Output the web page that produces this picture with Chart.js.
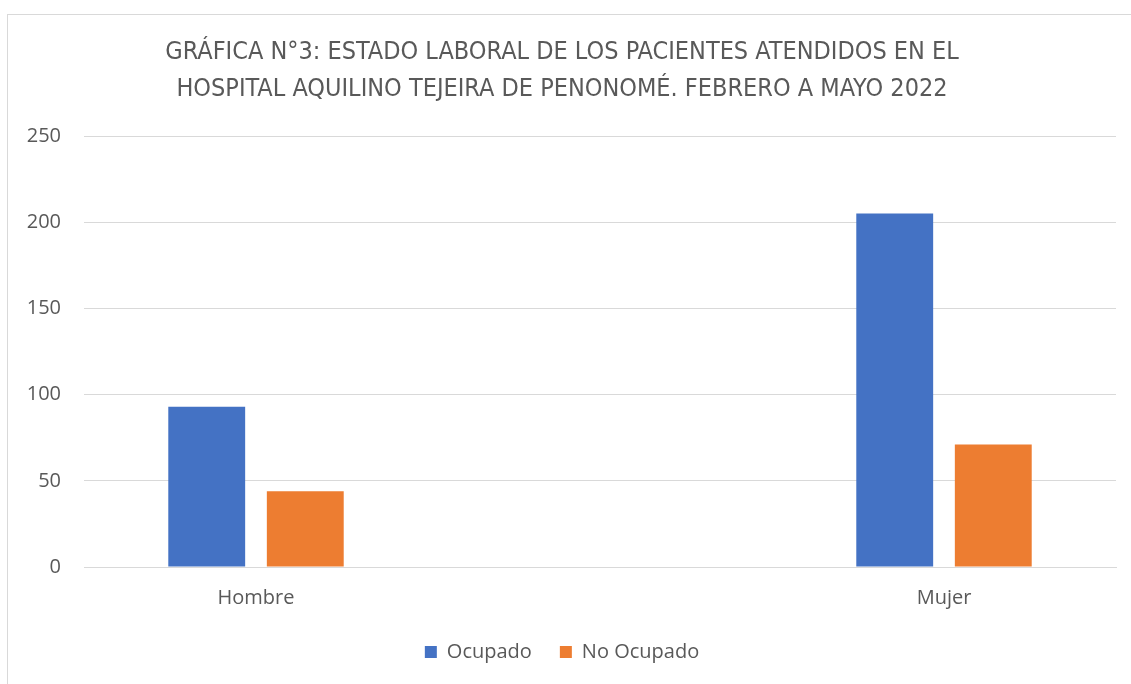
<!DOCTYPE html>
<html>
<head>
<meta charset="utf-8">
<script src="https://cdn.jsdelivr.net/npm/chart.js@4.4.0/dist/chart.umd.min.js"></script>
<style>
  body { margin: 0; background: #fff; overflow: hidden; }
  #box { position: absolute; left: 7px; top: 14px; width: 1124px; height: 670px;
         border-left: 1px solid #d9d9d9; border-top: 1px solid #d9d9d9; }
</style>
</head>
<body>
<div id="box"><canvas id="chart" width="1124" height="670"></canvas></div>
<script>
// Data
const categories = ["Hombre", "", "Mujer"];
const ocupado = [93, null, 205];
const noOcupado = [44, null, 71];
const yTicks = [0, 50, 100, 150, 200, 250];

const textColor = "#595959";
const gridColor = "#d9d9d9";
const tickFont = { family: "'Open Sans', sans-serif", size: 20 };

new Chart(document.getElementById("chart"), {
  type: "bar",
  data: {
    labels: categories,
    datasets: [
      { label: "Ocupado", data: ocupado, backgroundColor: "#4472c4" },
      { label: "No Ocupado", data: noOcupado, backgroundColor: "#ed7d31" }
    ]
  },
  options: {
    responsive: false,
    animation: false,
    categoryPercentage: 0.573,
    barPercentage: 0.78,
    layout: { padding: { left: 0, right: 16, top: 0, bottom: 13 } },
    scales: {
      x: {
        grid: { display: false, drawTicks: false },
        border: { color: gridColor },
        ticks: { color: textColor, font: tickFont, padding: 19 },
        afterFit: s => { s.height = 47; }
      },
      y: {
        min: 0,
        max: 250,
        afterBuildTicks: s => { s.ticks = yTicks.map(v => ({ value: v })); },
        grid: { color: gridColor, drawTicks: false },
        border: { display: false },
        ticks: { color: textColor, font: tickFont, padding: 23 },
        afterFit: s => { s.width = 76; }
      }
    },
    plugins: {
      title: {
        display: true,
        text: ["GRÁFICA N°3: ESTADO LABORAL DE LOS PACIENTES ATENDIDOS EN EL",
               "HOSPITAL AQUILINO TEJEIRA DE PENONOMÉ. FEBRERO A MAYO 2022"],
        color: textColor,
        font: { family: "'Liberation Sans Narrow', 'DejaVu Sans Condensed', sans-serif", size: 25, weight: "normal", lineHeight: 1.48 },
        padding: { top: 19, bottom: 28 }
      },
      legend: {
        position: "bottom",
        labels: {
          color: textColor,
          boxWidth: 12,
          boxHeight: 12,
          padding: 28,
          font: tickFont
        }
      },
      tooltip: { enabled: false }
    }
  }
});
</script>
</body>
</html>
